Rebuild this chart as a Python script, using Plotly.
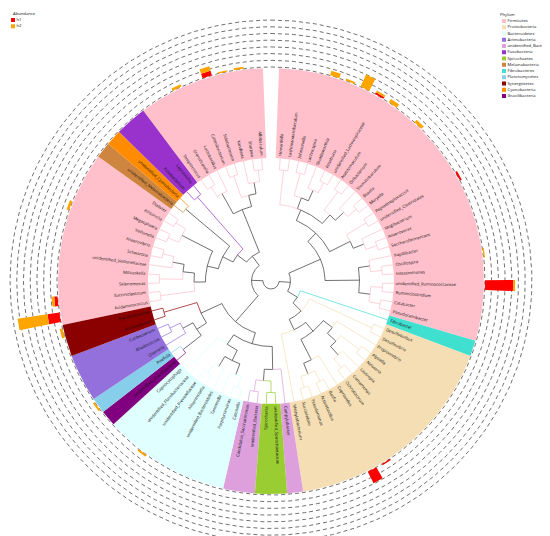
import math
import plotly.graph_objects as go

# genera in clockwise order, starting at 12 o'clock
genera = ["Howardella", "Lachnoanaerobaculum", "Johnsonella", "Lachnospira", "Shuttleworthia",
          "Roseburia", "unidentified_Lachnospiraceae", "Acetitomaculum", "Oribacterium",
          "Stomatobaculum", "Blautia", "Moryella", "Peptostreptococcus", "unidentified_Clostridiales",
          "Mogibacterium", "Anaerovorax", "Saccharofermentans", "Papillibacter", "Oscillospira",
          "Intestinimonas", "unidentified_Ruminococcaceae", "Ruminiclostridium", "Catabacter",
          "Pseudoramibacter", "Fibrobacter", "Desulfobulbus", "Desulfovibrio", "Propionivibrio",
          "Alysiella", "Neisseria", "Lautropia", "Comamonas", "Ochrobactrum", "Cupriavidus",
          "Basfia", "Actinobacillus", "Pseudomonas", "Succinivibrio", "Methylobacterium",
          "Campylobacter", "unidentified_Spirochaetaceae", "Spirochaeta", "unidentified_Bacteria",
          "Candidatus_Saccharimonas", "Catonella", "Porphyromonas", "Tannerella",
          "unidentified_Bacteroidales", "Alloprevotella", "unidentified_Prevotellaceae",
          "unidentified_Flavobacteriaceae", "Capnocytophaga", "unidentified_Gracilibacteria",
          "Pirellula", "Olsenella", "Rhodococcus", "Cutibacterium", "Fretibacterium",
          "Pyramidobacter", "Acidaminococcus", "Succiniclasticum", "Selenomonas", "Mitsuokella",
          "unidentified_Veillonellaceae", "Schwartzia", "Anaerovibrio", "Veillonella",
          "Megasphaera", "Allisonella", "Dialister", "unidentified_Melainabacteria",
          "unidentified_Cyanobacteria", "Fusobacterium", "Leptotrichia", "Streptococcus",
          "Granulicatella", "Lactobacillus", "Catenibacterium", "Solobacterium", "Kandleria",
          "Sharpea", "Allobaculum"]

phyla = (["Firmicutes"] * 24 + ["Fibrobacteres"] + ["Proteobacteria"] * 14
         + ["unidentified_Bacteria"] + ["Spirochaetes"] * 2 + ["unidentified_Bacteria"] * 2
         + ["Bacteroidetes"] * 8 + ["Gracilibacteria"] + ["Planctomycetes"]
         + ["Actinobacteria"] * 3 + ["Synergistetes"] * 2 + ["Firmicutes"] * 11
         + ["Melainabacteria"] + ["Cyanobacteria"] + ["Fusobacteria"] * 2 + ["Firmicutes"] * 8)

h1 = [0, 0, 0, 0, 0, 0, 0.3, 0, 0, 0,
      0, 0, 0, 0.3, 0, 0, 0, 0, 0, 0,
      4.2, 0, 0, 0, 0, 0, 0, 0, 0, 0,
      0, 0, 0, 0.2, 1.9, 0, 0, 0, 0, 0,
      0, 0, 0, 0, 0, 0, 0, 0, 0, 0,
      0, 0, 0, 0, 0, 0, 0, 0, 0, 1.8,
      0.5, 0, 0, 0, 0, 0, 0, 0, 0, 0,
      0, 0, 0, 0, 0, 0, 0, 0, 0.7, 0,
      0, 0]
h2 = [0, 0, 0, 0.7, 0.3, 2.0, 0.3, 0.6, 0, 0.5,
      0, 0, 0, 0, 0, 0, 0, 0, 0.2, 0,
      0.3, 0, 0, 0, 0, 0, 0, 0, 0, 0,
      0, 0, 0, 0, 0, 0, 0, 0, 0, 0,
      0, 0, 0, 0, 0, 0, 0, 0, 0, 0.3,
      0, 0, 0, 0.3, 0, 0, 0, 0, 0.4, 4.5,
      0.4, 0, 0, 0, 0, 0, 0.4, 0, 0, 0,
      0, 0, 0, 0, 0, 0, 0.4, 0, 0.7, 0.2,
      0.3, 0]
grid_levels = [0, 1, 2, 3, 4, 5, 6, 7]

phylum_names = ["Firmicutes", "Proteobacteria", "Bacteroidetes", "Actinobacteria",
                "unidentified_Bacteria", "Fusobacteria", "Spirochaetes", "Melainabacteria",
                "Fibrobacteres", "Planctomycetes", "Synergistetes", "Cyanobacteria",
                "Gracilibacteria"]
phylum_colors = ["#FFC0CB", "#F5DEB3", "#E0FFFF", "#9370DB", "#DDA0DD", "#9932CC", "#9ACD32",
                 "#CD853F", "#40E0D0", "#87CEEB", "#8B0000", "#FF8C00", "#800080"]
abund_names = ["h1", "h2"]
abund_colors = ["#FF0000", "#FFA500"]

tree_newick = (
    "((((((Howardella,Lachnoanaerobaculum),((Johnsonella,Lachnospira),(Shuttleworthia,"
    "(Roseburia,unidentified_Lachnospiraceae))),((Acetitomaculum,Oribacterium),(Stomatobaculum,"
    "(Blautia,Moryella)))),((Peptostreptococcus,unidentified_Clostridiales),(Mogibacterium,"
    "(Anaerovorax,Saccharofermentans)))),((Papillibacter,(Oscillospira,Intestinimonas)),"
    "((unidentified_Ruminococcaceae,Ruminiclostridium),(Catabacter,Pseudoramibacter)))),"
    "(Fibrobacter,((Desulfobulbus,Desulfovibrio),(((Propionivibrio,((Alysiella,Neisseria),"
    "(Lautropia,(Comamonas,Ochrobactrum)))),(Cupriavidus,((Basfia,Actinobacillus),"
    "(Pseudomonas,Succinivibrio)))),Methylobacterium)))),"
    "((((Campylobacter,((unidentified_Spirochaetaceae,Spirochaeta),(unidentified_Bacteria,"
    "Candidatus_Saccharimonas))),((((Catonella,Porphyromonas),Tannerella),(unidentified_Bacteroidales,"
    "(Alloprevotella,unidentified_Prevotellaceae))),(unidentified_Flavobacteriaceae,Capnocytophaga))),"
    "(((unidentified_Gracilibacteria,Pirellula),(Olsenella,(Rhodococcus,Cutibacterium))),"
    "(Fretibacterium,Pyramidobacter))),"
    "((((((Acidaminococcus,Succiniclasticum),((Selenomonas,Mitsuokella),(unidentified_Veillonellaceae,"
    "(Schwartzia,Anaerovibrio)))),((Veillonella,Megasphaera),(Allisonella,Dialister))),"
    "(unidentified_Melainabacteria,unidentified_Cyanobacteria)),(Fusobacterium,Leptotrichia)),"
    "(((Streptococcus,Granulicatella),Lactobacillus),((Catenibacterium,Solobacterium),"
    "(Kandleria,(Sharpea,Allobaculum)))))));"
)

CX, CY = 263, 273
R_ROOT, R_TIP, R_OUT = 8, 123, 213
R_BAR, BAR_PX = 214, 6.7
LABEL_R = 125.5
slot = 360 / (len(genera) + 1)
color_of = dict(zip(phylum_names, phylum_colors))
leaf_pos = {g: i + 1 for i, g in enumerate(genera)}
leaf_phy = dict(zip(genera, phyla))


def xy(r, y):
    a = math.radians(90 - y * slot)
    return CX + r * math.cos(a), CY - r * math.sin(a)


def arc(r, ya, yb, step=0.2):
    n = max(2, int(abs(yb - ya) / step) + 1)
    pts = [xy(r, ya + (yb - ya) * k / (n - 1)) for k in range(n)]
    return [p[0] for p in pts], [p[1] for p in pts]


def parse(s):
    s = s.replace(" ", "")
    pos = 0

    def node():
        nonlocal pos
        if s[pos] == "(":
            pos += 1
            kids = [node()]
            while s[pos] == ",":
                pos += 1
                kids.append(node())
            pos += 1
            return kids
        start = pos
        while s[pos] not in ",);":
            pos += 1
        return s[start:pos]
    return node()


def measure(n):
    if isinstance(n, str):
        return {"y": leaf_pos[n], "h": 0, "leaves": [n], "kids": []}
    kids = [measure(c) for c in n]
    return {"y": sum(k["y"] for k in kids) / len(kids),
            "h": 1 + max(k["h"] for k in kids),
            "leaves": [l for k in kids for l in k["leaves"]],
            "kids": kids}


tree = measure(parse(tree_newick))
unit = (R_TIP - R_ROOT) / tree["h"]
BACKBONE = "#333333"
edges = {}


def walk(nd):
    rn = R_TIP - nd["h"] * unit
    for k in nd["kids"]:
        ph = {leaf_phy[l] for l in k["leaves"]}
        col = color_of[ph.pop()] if len(ph) == 1 and k["h"] <= 1 else BACKBONE
        xs, ys = arc(rn, nd["y"], k["y"])
        x2, y2 = xy(R_TIP - k["h"] * unit, k["y"])
        ex, ey = edges.setdefault(col, ([], []))
        ex += xs + [x2, None]
        ey += ys + [y2, None]
        walk(k)


walk(tree)

fig = go.Figure()

# phylum highlight sectors
runs = []
start = 0
for i in range(1, len(genera) + 1):
    if i == len(genera) or phyla[i] != phyla[start]:
        runs.append((start + 1, i, phyla[start]))
        start = i
sectors = {}
for a, b, ph in runs:
    ox, oy = arc(R_OUT, a - 0.5, b + 0.5)
    ix, iy = arc(R_TIP, b + 0.5, a - 0.5)
    sx, sy = sectors.setdefault(ph, ([], []))
    sx += ox + ix + [ox[0], None]
    sy += oy + iy + [oy[0], None]
for ph, (sx, sy) in sectors.items():
    fig.add_trace(go.Scatter(x=sx, y=sy, mode="lines", fill="toself", fillcolor=color_of[ph],
                             line=dict(width=0), hoverinfo="skip"))

# dashed grid circles for the abundance ring
for g in grid_levels:
    cx_, cy_ = arc(R_BAR + g * BAR_PX, 0, len(genera) + 1)
    fig.add_trace(go.Scatter(x=cx_, y=cy_, mode="lines", hoverinfo="skip",
                             line=dict(color="#4d4d4d", width=0.8, dash="4px,3px")))

# stacked abundance bars
for name, vals, lows, col in [("h1", h1, [0] * len(h1), abund_colors[0]),
                              ("h2", h2, h1, abund_colors[1])]:
    bx, by = [], []
    for i, (v, lo) in enumerate(zip(vals, lows)):
        if v <= 0:
            continue
        y = i + 1
        r0, r1 = R_BAR + lo * BAR_PX, R_BAR + (lo + v) * BAR_PX
        ox, oy = arc(r1, y - 0.3, y + 0.3, 0.1)
        ix, iy = arc(r0, y + 0.3, y - 0.3, 0.1)
        bx += ox + ix + [ox[0], None]
        by += oy + iy + [oy[0], None]
    fig.add_trace(go.Scatter(x=bx, y=by, mode="lines", fill="toself", fillcolor=col,
                             line=dict(width=0), name=name, hoverinfo="skip"))

# tree branches
for col, (ex, ey) in edges.items():
    fig.add_trace(go.Scatter(x=ex, y=ey, mode="lines", hoverinfo="skip",
                             line=dict(color=col, width=0.7)))

# tip labels, radial
hide = '<span style="color:rgba(0,0,0,0)">{}</span>'
for i, g in enumerate(genera):
    y = i + 1
    theta = (90 - y * slot) % 360
    lx, ly = xy(LABEL_R, y)
    if theta < 90 or theta > 270:
        txt, ang = hide.format(g) + g, -theta
    else:
        txt, ang = g + hide.format(g), 180 - theta
    ang = (ang + 180) % 360 - 180
    fig.add_annotation(x=lx, y=ly, text=txt, textangle=ang, showarrow=False,
                       xanchor="center", yanchor="middle",
                       font=dict(size=4.2, color="#111111", family="Open Sans"))

# legends
fig.add_trace(go.Scatter(x=[5, 5], y=[12, 18.3], mode="markers+text", text=abund_names,
                         textposition="middle right", hoverinfo="skip",
                         marker=dict(symbol="square", size=4, color=abund_colors),
                         textfont=dict(size=4.2, family="Open Sans", color="#111111")))
fig.add_annotation(x=3, y=5.5, text="Abundance", showarrow=False, xanchor="left",
                   yanchor="middle", font=dict(size=4.2, family="Open Sans", color="#111111"))
fig.add_trace(go.Scatter(x=[496] * len(phylum_names),
                         y=[13 + 6.25 * k for k in range(len(phylum_names))],
                         mode="markers+text", text=phylum_names, textposition="middle right",
                         hoverinfo="skip",
                         marker=dict(symbol="square", size=4, color=phylum_colors),
                         textfont=dict(size=4.2, family="Open Sans", color="#111111")))
fig.add_annotation(x=490, y=6, text="Phylum", showarrow=False, xanchor="left",
                   yanchor="middle", font=dict(size=4.2, family="Open Sans", color="#111111"))

fig.update_layout(width=550, height=536, margin=dict(l=0, r=0, t=0, b=0),
                  showlegend=False, plot_bgcolor="white", paper_bgcolor="white",
                  xaxis=dict(range=[0, 550], visible=False, fixedrange=True),
                  yaxis=dict(range=[536, 0], visible=False, fixedrange=True))
fig.write_html("out.html")
